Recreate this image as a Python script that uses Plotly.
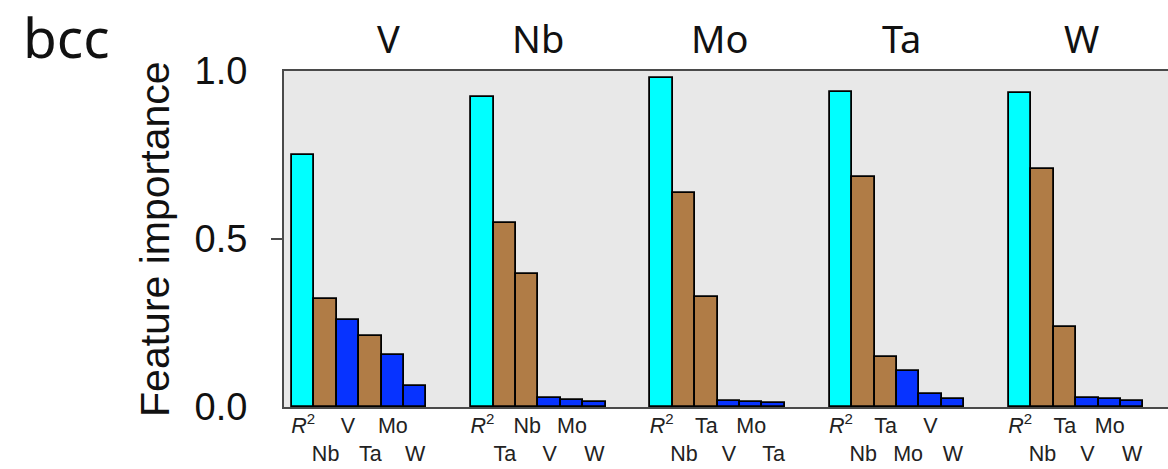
import plotly.graph_objects as go

# ---- data ----
groups = ["V", "Nb", "Mo", "Ta", "W"]

labels_V = ["R2", "Nb", "V", "Ta", "Mo", "W"]
values_V = [0.750, 0.320, 0.258, 0.212, 0.156, 0.063]
kinds_V = ["r2", "g5", "g6", "g5", "g6", "g6"]

labels_Nb = ["R2", "Ta", "Nb", "V", "Mo", "W"]
values_Nb = [0.923, 0.547, 0.395, 0.026, 0.021, 0.016]
kinds_Nb = ["r2", "g5", "g5", "g6", "g6", "g6"]

labels_Mo = ["R2", "Nb", "Ta", "V", "Mo", "Ta"]
values_Mo = [0.978, 0.636, 0.328, 0.019, 0.014, 0.013]
kinds_Mo = ["r2", "g5", "g5", "g6", "g6", "g6"]

labels_Ta = ["R2", "Nb", "Ta", "Mo", "V", "W"]
values_Ta = [0.937, 0.684, 0.150, 0.108, 0.039, 0.023]
kinds_Ta = ["r2", "g5", "g5", "g6", "g6", "g6"]

labels_W = ["R2", "Nb", "Ta", "V", "Mo", "W"]
values_W = [0.934, 0.708, 0.239, 0.026, 0.023, 0.019]
kinds_W = ["r2", "g5", "g5", "g6", "g6", "g6"]

y_ticks = [0.0, 0.5, 1.0]
y_ticktext = ["0.0", "0.5", "1.0"]

all_labels = [labels_V, labels_Nb, labels_Mo, labels_Ta, labels_W]
all_values = [values_V, values_Nb, values_Mo, values_Ta, values_W]
all_kinds = [kinds_V, kinds_Nb, kinds_Mo, kinds_Ta, kinds_W]

# ---- style ----
COLORS = {"r2": "#00FFFF", "g5": "#B07C46", "g6": "#0733FF"}
STRIDE = 8
TITLE_SHIFT = [1.3, 0.0, 0.1, 0.2, 0.25]
AXIS_COLOR = "#4a4a4a"
SANS = "Liberation Sans, Arial, sans-serif"
UI = "Noto Sans, Open Sans, sans-serif"

fig = go.Figure()

tickvals, ticktext = [], []
for g, (labs, vals, kinds) in enumerate(zip(all_labels, all_values, all_kinds)):
    xs = [g * STRIDE + j for j in range(len(vals))]
    fig.add_trace(go.Bar(
        x=xs, y=vals, width=1.0,
        marker=dict(color=[COLORS[k] for k in kinds],
                    line=dict(color="#000000", width=1.8)),
        showlegend=False, hoverinfo="skip",
    ))
    for j, (x, lab) in enumerate(zip(xs, labs)):
        t = "<i>R</i><sup>2</sup>" if lab == "R2" else lab
        tickvals.append(x)
        ticktext.append(t if j % 2 == 0 else "\u00a0<br>" + t)

# a second y axis used only to draw the lone tick at 0.5
fig.add_trace(go.Scatter(x=[None], y=[None], yaxis="y2", showlegend=False))

x_left = -0.857
x_right = 38.6

fig.update_layout(
    width=1168, height=469,
    margin=dict(l=284, r=0, t=71, b=62),
    paper_bgcolor="white",
    plot_bgcolor="#E8E8E8",
    bargap=0,
    xaxis=dict(
        range=[x_left, x_right],
        tickmode="array", tickvals=tickvals, ticktext=ticktext,
        tickangle=0,
        ticks="", showgrid=False, zeroline=False,
        showline=True, mirror=True, linecolor=AXIS_COLOR, linewidth=2,
        tickfont=dict(family=SANS, size=21.5, color="#222222"),
        ticklabelstandoff=-2,
    ),
    yaxis=dict(
        range=[0, 1.0],
        tickmode="array", tickvals=y_ticks, ticktext=y_ticktext,
        ticks="", showgrid=False, zeroline=False,
        showline=True, linecolor=AXIS_COLOR, linewidth=2,
        tickfont=dict(family=SANS, size=38, color="#111111"),
        ticklabelstandoff=27,
    ),
    yaxis2=dict(
        range=[0, 1.0], overlaying="y", side="left",
        tickmode="array", tickvals=[0.5],
        ticks="outside", ticklen=12, tickwidth=2, tickcolor=AXIS_COLOR,
        showticklabels=False, showgrid=False, zeroline=False, showline=False,
    ),
)

annotations = []
for g, name in enumerate(groups):
    annotations.append(dict(
        x=g * STRIDE + 2.5 + TITLE_SHIFT[g], y=1.015, xref="x", yref="paper",
        text=name, showarrow=False, xanchor="center", yanchor="bottom",
        font=dict(family=UI, size=38, color="#111111"),
    ))
annotations.append(dict(
    x=-0.297, y=1.103, xref="paper", yref="paper", text="bcc",
    showarrow=False, xanchor="left", yanchor="middle",
    font=dict(family=UI, size=55, color="#111111"),
))
annotations.append(dict(
    x=-0.146, y=0.5, xref="paper", yref="paper", text="Feature importance",
    textangle=-90, showarrow=False, xanchor="center", yanchor="middle",
    font=dict(family=SANS, size=41, color="#111111"),
))
fig.update_layout(annotations=annotations)

fig.write_html("out.html")
